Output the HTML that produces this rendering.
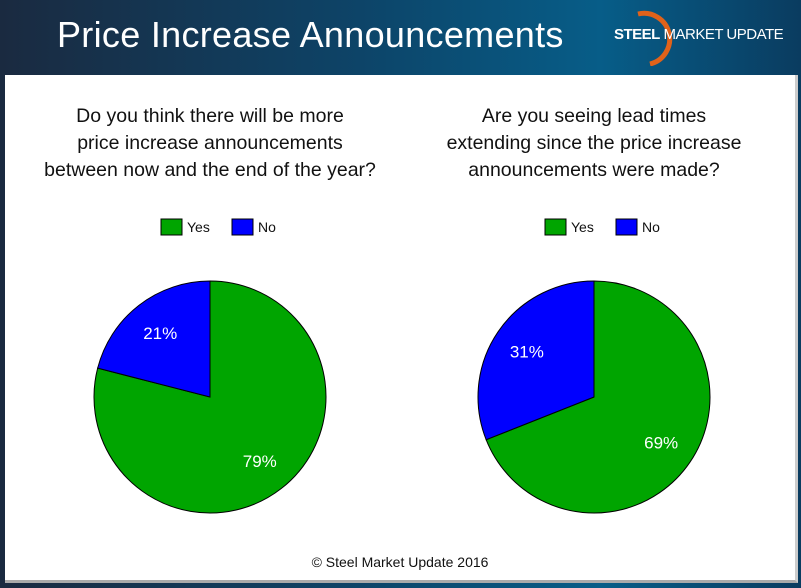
<!DOCTYPE html>
<html><head><meta charset="utf-8"><style>
body{margin:0;width:801px;height:588px;overflow:hidden;background:linear-gradient(90deg,#1a2a40 0%,#0d4468 45%,#075d88 75%,#0a3c60 100%);font-family:"Liberation Sans",sans-serif;position:relative}
#title{position:absolute;left:57px;top:14px;color:#fff;font-size:36px;letter-spacing:0.3px}
#logo{position:absolute;left:614px;top:26px;color:#fff;font-size:15px;white-space:nowrap;letter-spacing:-0.5px}
#panel{position:absolute;left:5px;top:75px;width:790px;height:505px;background:#fff;border-bottom:3px solid #aaa;border-right:3px solid #ccc}
</style></head><body>
<div id="title">Price Increase Announcements</div>
<svg style="position:absolute;left:620px;top:6px" width="60" height="60"><path d="M18 8 A24 24 0 0 1 30 58" fill="none" stroke="#e0621a" stroke-width="5"/></svg>
<div id="logo"><b>STEEL</b> MARKET UPDATE</div>
<div id="panel"></div>
<svg id="chart" style="position:absolute;left:0;top:0" width="801" height="588" font-family="Liberation Sans, sans-serif"></svg>
<script>
const titles=[["Do you think there will be more","price increase announcements","between now and the end of the year?"],["Are you seeing lead times","extending since the price increase","announcements were made?"]];
const categories=["Yes","No"];
const values1=[79,21];
const values2=[69,31];
const series=[values1,values2];
const colors=["#00a500","#0000ff"];
const centers=[210,594];
const svg=document.getElementById('chart');
const NS='http://www.w3.org/2000/svg';
function mk(t,a){const e=document.createElementNS(NS,t);for(const k in a)e.setAttribute(k,a[k]);svg.appendChild(e);return e;}
const cy=397,r=116;
series.forEach((vals,i)=>{
 const cx=centers[i];
 titles[i].forEach((l,j)=>{const t=mk('text',{x:cx,y:122+j*27,'text-anchor':'middle','font-size':19.5,fill:'#111'});t.textContent=l;
 
 });
 categories.forEach((c,k)=>{const x=cx-49+k*71;
  const rc=mk('rect',{x:x,y:219,width:21,height:16,fill:colors[k],stroke:'#000','stroke-width':1});
  
  
  const t=mk('text',{x:x+26,y:232,'font-size':14,fill:'#111'});t.textContent=c;
  
  });
 const tot=vals.reduce((a,b)=>a+b,0);let a0=0;
 vals.forEach((v,k)=>{const a1=a0+v/tot*2*Math.PI;
  const p=(a)=>[cx+r*Math.sin(a),cy-r*Math.cos(a)];
  const [x0,y0]=p(a0),[x1,y1]=p(a1);
  const path=mk('path',{d:`M${cx} ${cy} L${x0} ${y0} A${r} ${r} 0 ${a1-a0>Math.PI?1:0} 1 ${x1} ${y1}Z`,fill:colors[k],stroke:'#000','stroke-width':1});
  
  
  const m=(a0+a1)/2,lr=r*0.7;
  const t=mk('text',{x:cx+lr*Math.sin(m),y:cy-lr*Math.cos(m)+6,'text-anchor':'middle','font-size':17,fill:'#fff'});t.textContent=v+'%';
  
  
  a0=a1;});
});
const f=mk('text',{x:400,y:567,'text-anchor':'middle','font-size':14,fill:'#111'});f.textContent='© Steel Market Update 2016';


</script>
</body></html>
